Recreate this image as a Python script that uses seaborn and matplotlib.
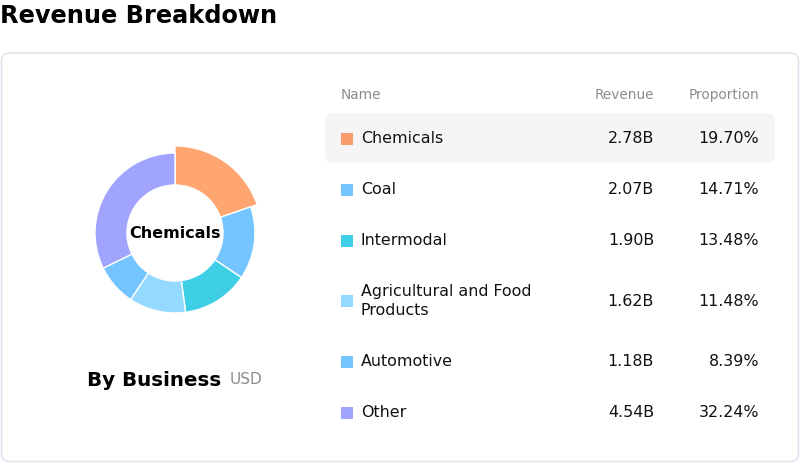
import textwrap
import matplotlib
matplotlib.use("Agg")
import matplotlib.pyplot as plt
from matplotlib.patches import FancyBboxPatch, Rectangle
import seaborn as sns

# Data
names = ["Chemicals", "Coal", "Intermodal", "Agricultural and Food Products",
         "Automotive", "Other"]
revenue = [2.78, 2.07, 1.90, 1.62, 1.18, 4.54]  # billions USD
proportion = [19.70, 14.71, 13.48, 11.48, 8.39, 32.24]
colors = ["#FFA56F", "#74C4FF", "#3ECFE6", "#94D9FF", "#74C4FF", "#A0A4FF"]
highlight = "Chemicals"

sns.set_theme(style="white")
plt.rcParams['font.family'] = ['DejaVu Sans']

W, H = 800, 463
fig = plt.figure(figsize=(W / 100, H / 100), dpi=100)
fig.patch.set_facecolor("white")

# full-figure axes in pixel coordinates
bg = fig.add_axes([0, 0, 1, 1])
bg.set_xlim(0, W)
bg.set_ylim(H, 0)
bg.axis("off")

bg.text(0, 16, "Revenue Breakdown", fontsize=17.3, fontweight="bold",
        color="#000000", ha="left", va="center")

card = FancyBboxPatch((1.5, 53), 797, 408.5, boxstyle="round,pad=0,rounding_size=8",
                      facecolor="white", edgecolor="#DEDEEC", linewidth=1)
bg.add_patch(card)

# donut
cx, cy, side = 175, 233, 200
ax = fig.add_axes([(cx - side / 2) / W, (H - cy - side / 2) / H, side / W, side / H])
wedges, _ = ax.pie(proportion, colors=colors, startangle=90, counterclock=False,
                   radius=0.8, wedgeprops=dict(width=0.32, edgecolor="white", linewidth=1))
hi = names.index(highlight)
wedges[hi].set_radius(0.87)
wedges[hi].set_width(0.39)
ax.set_xlim(-1, 1)
ax.set_ylim(-1, 1)
ax.set_aspect("equal")
ax.axis("off")
ax.text(0, 0, highlight, ha="center", va="center", fontsize=11.5,
        fontweight="bold", color="#000000")

bg.text(87, 380, "By Business", fontsize=14.3, fontweight="bold", color="#000000",
        ha="left", va="center")
bg.text(230, 379, "USD", fontsize=11, color="#8C8C8C", ha="left", va="center")

# table
x_name, x_rev, x_prop = 341, 654, 759
hdr_kw = dict(fontsize=9.8, color="#8C8C8C", va="center")
bg.text(x_name, 95, "Name", ha="left", **hdr_kw)
bg.text(x_rev, 95, "Revenue", ha="right", **hdr_kw)
bg.text(x_prop, 95, "Proportion", ha="right", **hdr_kw)

row_top = 113
for name, rev, prop, col in zip(names, revenue, proportion, colors):
    lines = textwrap.wrap(name, 22)
    h = 51 + 19 * (len(lines) - 1)
    yc = row_top + h / 2
    if name == highlight:
        bg.add_patch(FancyBboxPatch((325, row_top), 450, h - 1,
                                    boxstyle="round,pad=0,rounding_size=8",
                                    facecolor="#F5F5F5", edgecolor="none"))
    sq_col = "#F99B6B" if name == highlight else col
    bg.add_patch(Rectangle((341, yc - 6), 12, 12, facecolor=sq_col, edgecolor="none"))
    bg.text(361, yc, "\n".join(lines), ha="left", va="center", fontsize=11.4,
            color="#111111", linespacing=1.3)
    bg.text(x_rev, yc, f"{rev:.2f}B", ha="right", va="center", fontsize=11.4, color="#111111")
    bg.text(x_prop, yc, f"{prop:.2f}%", ha="right", va="center", fontsize=11.4, color="#111111")
    row_top += h

fig.savefig("out.png", dpi=100, facecolor="white")
